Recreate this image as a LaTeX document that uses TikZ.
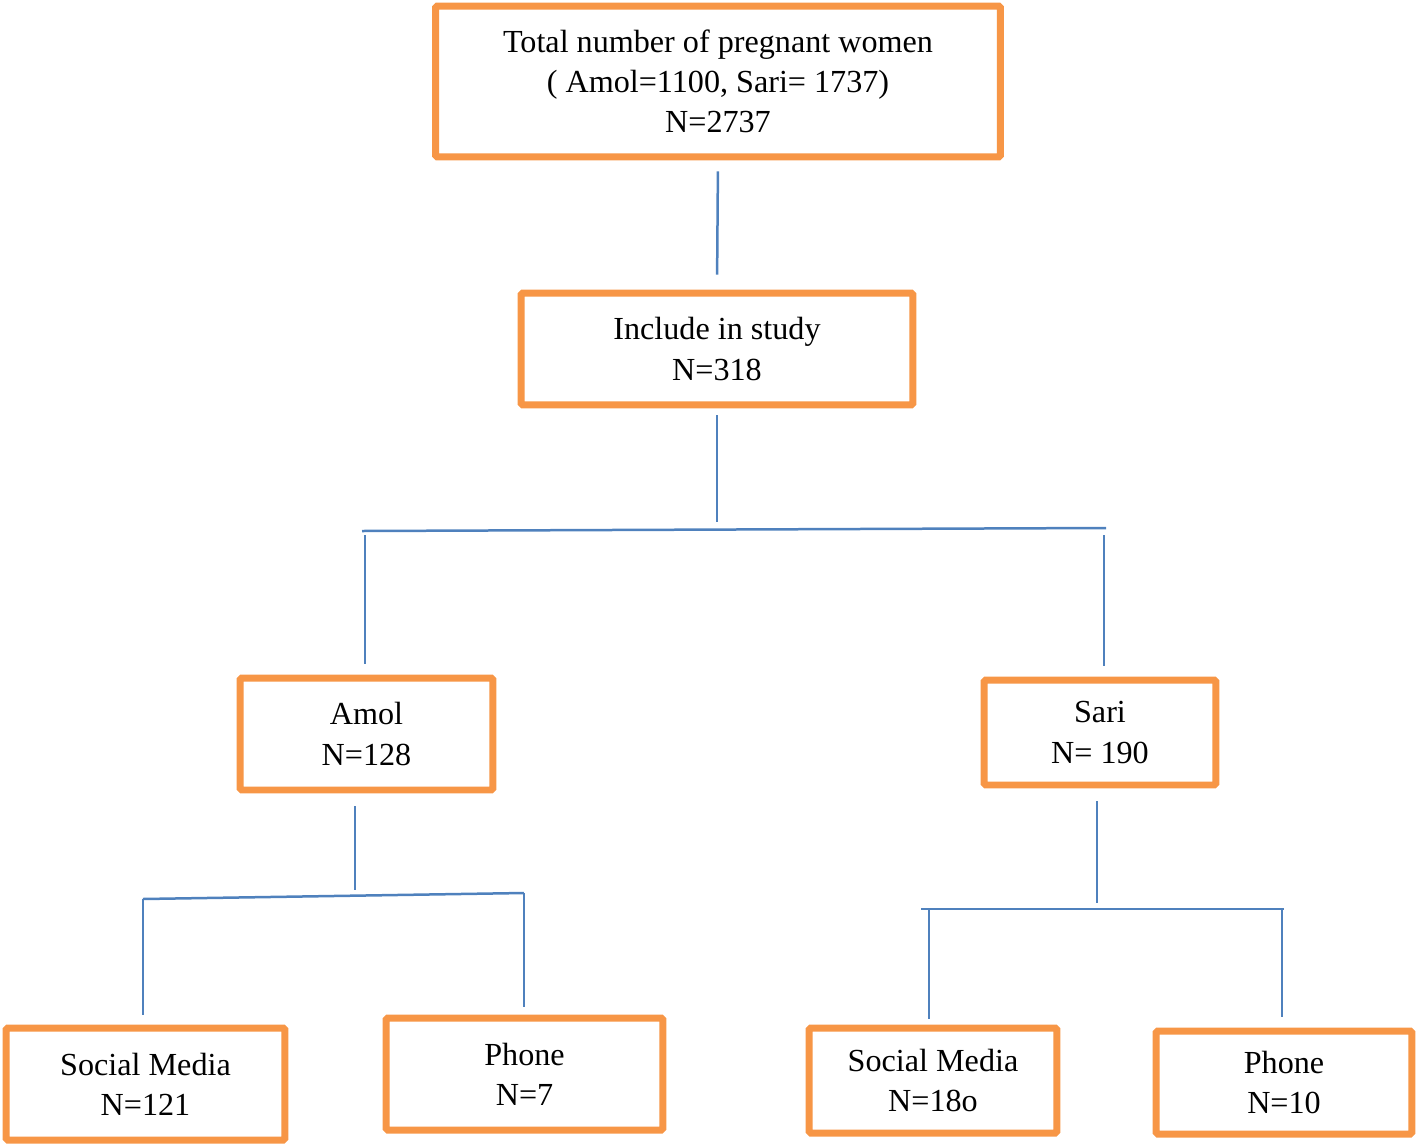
\documentclass[tikz,border=0pt]{standalone}
\usepackage{fontspec}
\setmainfont{Liberation Serif}
\usetikzlibrary{positioning}
\definecolor{boxorange}{HTML}{F79646}
\definecolor{lineblue}{HTML}{4F81BD}

\begin{document}
\begin{tikzpicture}[
  x=0.02cm, y=-0.02cm,
  box/.style={draw=boxorange, line width=0.14cm, rounded corners=1pt, fill=white,
              align=center, inner sep=2pt, font=\fontsize{18.3}{22.8}\selectfont},
  link/.style={draw=lineblue, line width=0.05cm},
]
\useasboundingbox (0,0) rectangle (1418,1147);

% Boxes
\node[box, minimum width=11.3cm, minimum height=3.02cm] (total) at (718,81.5)
  {Total number of pregnant women\\( Amol=1100, Sari= 1737)\\N=2737};
\node[box, minimum width=7.84cm, minimum height=2.24cm] (incl) at (717,349)
  {Include in study\\N=318};
\node[box, minimum width=5.06cm, minimum height=2.24cm] (amol) at (366.5,734)
  {Amol\\N=128};
\node[box, minimum width=4.64cm, minimum height=2.10cm] (sari) at (1100,732.5)
  {Sari\\N= 190};
\node[box, minimum width=5.58cm, minimum height=2.24cm] (amolsm) at (145.5,1084)
  {Social Media\\N=121};
\node[box, minimum width=5.54cm, minimum height=2.24cm] (amolph) at (524.5,1074)
  {Phone\\N=7};
\node[box, minimum width=4.96cm, minimum height=2.10cm] (sarism) at (933,1080.5)
  {Social Media\\N=18o};
\node[box, minimum width=5.12cm, minimum height=2.06cm] (sariph) at (1284,1082.5)
  {Phone\\N=10};

% Junction points
\coordinate (trunk) at (717,522);
\coordinate (barL) at (362,531);
\coordinate (barR) at (1106,528);
\coordinate (dropL) at (365,535);
\coordinate (dropR) at (1104,535);
\coordinate (atrunk) at (355,890);
\coordinate (abarL) at (143,899);
\coordinate (abarR) at (524,893);
\coordinate (strunk) at (1097,903);
\coordinate (sbarL) at (921,909);
\coordinate (sbarR) at (1284,909);

% Connectors
\draw[link, shorten <=0.22cm, shorten >=0.3cm] (total.south) -- (incl.north);
\draw[link, shorten <=0.14cm] (incl.south) -- (trunk);
\draw[link] (barL) -- (barR);
\draw[link, shorten >=0.22cm] (dropL) -- (dropL |- amol.north);
\draw[link, shorten >=0.22cm] (dropR) -- (dropR |- sari.north);

\draw[link, shorten <=0.26cm] (amol.south -| atrunk) -- (atrunk);
\draw[link] (abarL) -- (abarR);
\draw[link, shorten >=0.2cm] (abarL) -- (abarL |- amolsm.north);
\draw[link, shorten >=0.16cm] (abarR) -- (abarR |- amolph.north);

\draw[link, shorten <=0.26cm] (sari.south -| strunk) -- (strunk);
\draw[link] (sbarL) -- (sbarR);
\draw[link, shorten >=0.12cm] ([xshift=0.16cm]sbarL) -- ([xshift=0.16cm]sbarL |- sarism.north);
\draw[link, shorten >=0.22cm] ([xshift=-0.04cm]sbarR) -- ([xshift=-0.04cm]sbarR |- sariph.north);

\end{tikzpicture}
\end{document}
